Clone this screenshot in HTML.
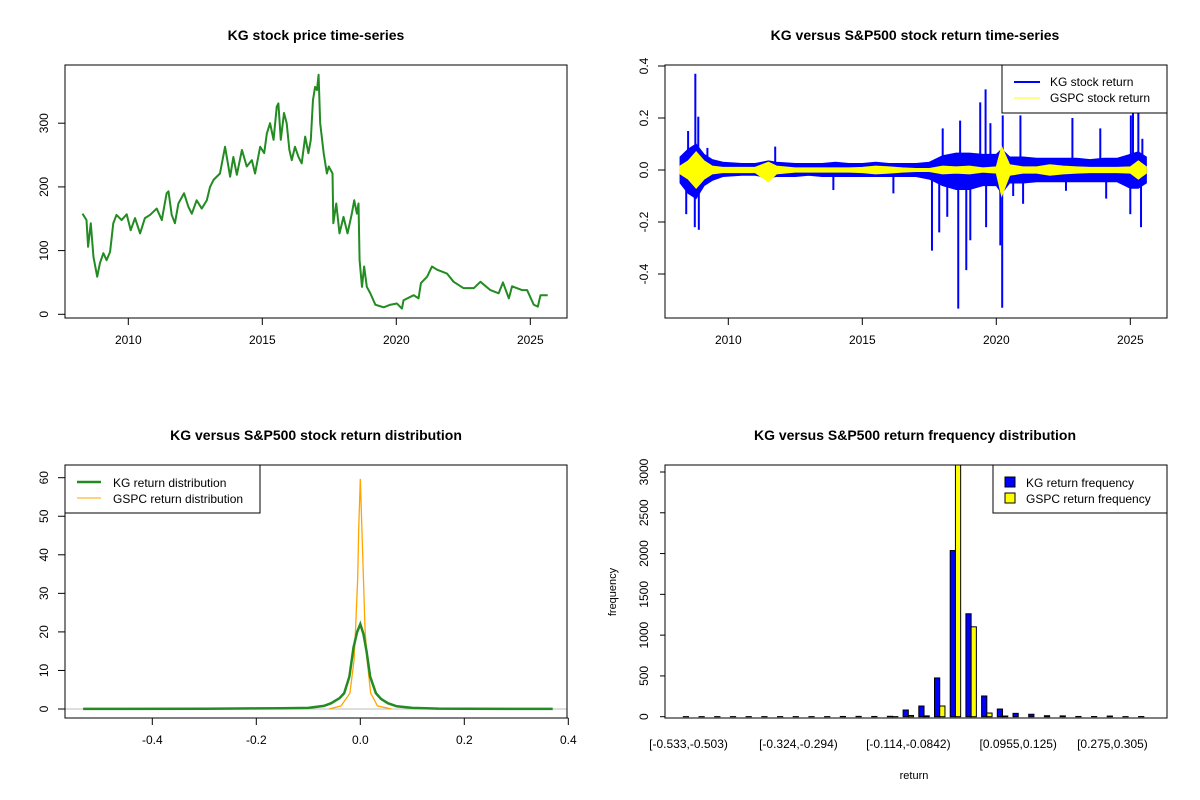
<!DOCTYPE html>
<html><head><meta charset="utf-8"><style>
html,body{margin:0;padding:0;background:#fff;}
svg{display:block;font-family:"Liberation Sans",Arial,sans-serif;}
</style></head><body>
<svg id="c" width="1200" height="800" viewBox="0 0 1200 800" xmlns="http://www.w3.org/2000/svg">
<defs><clipPath id="clipTR"><rect x="665" y="65" width="502" height="253"/></clipPath>
<clipPath id="clipBR"><rect x="665" y="465" width="502" height="253"/></clipPath>
<clipPath id="clipBL"><rect x="65" y="465" width="502" height="253"/></clipPath></defs>
<text x="316" y="40" text-anchor="middle" font-size="14" font-weight="bold">KG stock price time-series</text>
<text x="915" y="40" text-anchor="middle" font-size="14" font-weight="bold">KG versus S&amp;P500 stock return time-series</text>
<text x="316" y="440" text-anchor="middle" font-size="14" font-weight="bold">KG versus S&amp;P500 stock return distribution</text>
<text x="915" y="440" text-anchor="middle" font-size="14" font-weight="bold">KG versus S&amp;P500 return frequency distribution</text>
<g id="tl"></g>
<g id="tr"></g>
<g id="bl"></g>
<g id="br"></g>
</svg>
<script>
// ---- price chart data ----
const priceYears=[2008.29,2008.44,2008.5,2008.6,2008.7,2008.84,2008.94,2009.07,2009.19,2009.32,2009.44,2009.56,2009.75,2009.94,2010.09,2010.25,2010.44,2010.62,2010.81,2011.06,2011.25,2011.43,2011.5,2011.62,2011.74,2011.87,2012.08,2012.24,2012.37,2012.55,2012.74,2012.93,2013.05,2013.18,2013.42,2013.61,2013.8,2013.92,2014.05,2014.24,2014.42,2014.61,2014.73,2014.92,2015.07,2015.17,2015.29,2015.42,2015.54,2015.6,2015.69,2015.81,2015.91,2016.01,2016.1,2016.22,2016.35,2016.47,2016.6,2016.72,2016.81,2016.89,2016.97,2017.04,2017.1,2017.16,2017.29,2017.41,2017.48,2017.62,2017.65,2017.76,2017.88,2018.03,2018.18,2018.34,2018.43,2018.53,2018.59,2018.63,2018.72,2018.8,2018.9,2019.03,2019.22,2019.53,2019.78,2020.02,2020.21,2020.27,2020.65,2020.83,2020.92,2021.15,2021.33,2021.52,2021.89,2022.14,2022.51,2022.89,2023.14,2023.51,2023.82,2023.98,2024.2,2024.32,2024.69,2024.88,2025.13,2025.28,2025.38,2025.65];
const priceValues=[158,148,106,143,90,59,80,96,85,98,143,156,148,157,132,151,127,151,156,166,148,190,193,156,143,174,190,169,158,179,166,179,200,211,221,263,216,247,219,258,232,242,221,263,253,284,300,274,326,331,274,316,300,258,242,263,247,237,279,253,274,336,357,352,376,300,253,221,232,221,143,174,127,153,127,158,179,158,174,85,43,75,43,33,15,11,15,17,9,22,30,25,49,59,75,70,64,51,41,41,51,38,33,50,25,44,38,38,15,12,30,30];
const priceTicks=[0,100,200,300];
const yearTicks=[2010,2015,2020,2025];
// ---- return chart data ----
const bandYears=[2008.2,2008.5,2008.8,2009.1,2009.4,2009.8,2010.5,2011.0,2011.5,2011.8,2012.5,2013.0,2013.5,2014.0,2014.5,2015.0,2015.5,2016.0,2016.5,2017.0,2017.5,2018.0,2018.5,2019.0,2019.5,2020.0,2020.2,2020.5,2021.0,2021.5,2022.0,2022.5,2023.0,2023.5,2024.0,2024.5,2025.0,2025.3,2025.6];
const kgHigh=[0.05,0.08,0.1,0.06,0.04,0.03,0.025,0.025,0.035,0.03,0.025,0.025,0.025,0.03,0.025,0.025,0.03,0.025,0.025,0.025,0.03,0.055,0.065,0.065,0.06,0.06,0.08,0.05,0.05,0.045,0.045,0.045,0.045,0.04,0.045,0.045,0.06,0.07,0.05];
const kgLow=[-0.05,-0.09,-0.11,-0.06,-0.04,-0.025,-0.02,-0.02,-0.03,-0.025,-0.025,-0.02,-0.025,-0.025,-0.025,-0.025,-0.025,-0.025,-0.025,-0.025,-0.035,-0.06,-0.075,-0.075,-0.06,-0.06,-0.09,-0.05,-0.05,-0.045,-0.045,-0.045,-0.045,-0.045,-0.045,-0.045,-0.07,-0.07,-0.05];
const gspcHigh=[0.015,0.035,0.07,0.035,0.015,0.01,0.01,0.01,0.03,0.015,0.008,0.008,0.008,0.008,0.008,0.01,0.015,0.012,0.008,0.006,0.006,0.015,0.012,0.015,0.008,0.012,0.09,0.02,0.012,0.012,0.02,0.015,0.012,0.01,0.01,0.01,0.012,0.035,0.012];
const gspcLow=[-0.015,-0.035,-0.07,-0.035,-0.015,-0.01,-0.01,-0.01,-0.045,-0.015,-0.008,-0.008,-0.008,-0.008,-0.008,-0.01,-0.015,-0.012,-0.008,-0.006,-0.006,-0.015,-0.012,-0.015,-0.008,-0.012,-0.1,-0.02,-0.012,-0.012,-0.02,-0.015,-0.012,-0.01,-0.01,-0.01,-0.012,-0.035,-0.012];
const spikeYears=[2008.77,2008.88,2008.9,2008.75,2008.43,2008.5,2009.22,2011.75,2013.92,2016.16,2017.6,2017.87,2018.0,2018.17,2018.58,2018.65,2018.88,2019.03,2019.4,2019.6,2019.62,2019.78,2020.15,2020.22,2020.24,2020.63,2020.9,2021.0,2022.84,2022.6,2023.88,2024.1,2025.0,2025.02,2025.1,2025.4,2025.3,2025.45];
const spikeValues=[0.37,0.205,-0.23,-0.22,-0.17,0.15,0.085,0.09,-0.077,-0.09,-0.31,-0.24,0.16,-0.18,-0.533,0.19,-0.385,-0.27,0.26,0.31,-0.22,0.18,-0.29,-0.53,0.21,-0.10,0.21,-0.13,0.2,-0.08,0.16,-0.11,-0.17,0.21,0.3,-0.22,0.23,0.12];
const retTicks=[-0.4,-0.2,0,0.2,0.4];
const retTickLabels=["-0.4","-0.2","0.0","0.2","0.4"];
// ---- density data ----
const kgDensX=[-0.533,-0.3,-0.2,-0.15,-0.1,-0.07,-0.056,-0.04,-0.031,-0.021,-0.013,-0.006,0,0.006,0.012,0.019,0.03,0.04,0.053,0.07,0.1,0.15,0.2,0.37];
const kgDensY=[0.02,0.05,0.15,0.2,0.3,0.8,1.5,2.8,4.1,8.4,16,20,22,19.5,15,8.4,4.1,2.6,1.5,0.7,0.3,0.1,0.05,0.02];
const gsDensX=[-0.06,-0.037,-0.02,-0.012,-0.009,-0.005,-0.003,0,0.003,0.006,0.009,0.013,0.02,0.033,0.06];
const gsDensY=[0,0.8,4.1,12.7,21,34,47,59.7,47,34,21,12.7,4.1,0.8,0];
const densXTicks=[-0.4,-0.2,0,0.2,0.4];
const densXLabels=["-0.4","-0.2","0.0","0.2","0.4"];
const densYTicks=[0,10,20,30,40,50,60];
// ---- histogram data ----
const kgFreq=[1,1,1,1,1,1,1,1,1,1,3,4,3,5,82,131,475,2037,1262,254,94,41,30,12,10,3,2,8,1,2];
const gspcFreq=[0,0,0,0,0,0,0,0,0,0,0,0,0,1,15,10,131,3300,1102,45,8,0,0,0,0,0,0,0,0,0];
const binLabels=["[-0.533,-0.503)","[-0.324,-0.294)","[-0.114,-0.0842)","[0.0955,0.125)","[0.275,0.305)"];
const binLabelIdx=[0,7,14,21,27];
const freqTicks=[0,500,1000,1500,2000,2500,3000];

const NS="http://www.w3.org/2000/svg";
function mk(tag,attrs,parent){const e=document.createElementNS(NS,tag);for(const k in attrs)e.setAttribute(k,attrs[k]);parent.appendChild(e);return e;}
function txt(s,attrs,parent){const e=mk('text',attrs,parent);e.textContent=s;return e;}

const xYear=y=>128.3+(y-2010)*26.8;
const yPrice=p=>314.3-p*0.637;
const xYear2=y=>728.3+(y-2010)*26.8;
const yRet=r=>170-r*260;
const xD=r=>360.3+r*520;
const yD=d=>709-d*3.855;
const yF=v=>716.7-v*0.08157;
const barX=i=>683.3+i*15.7;
const BW=5.23;

function box(g,x,y,w,h,name){const b=mk('rect',{x:x,y:y,width:w,height:h,fill:'none',stroke:'#000','stroke-width':1},g);

}
function xAxis(g,vals,labels,sx,yb,name){
  const l=mk('line',{x1:sx(vals[0]),x2:sx(vals[vals.length-1]),y1:yb,y2:yb,stroke:'#000'},g);
  
  
  vals.forEach((v,i)=>{const t=mk('line',{x1:sx(v),x2:sx(v),y1:yb,y2:yb+7,stroke:'#000'},g);
    
    
    const s=txt(labels[i],{x:sx(v),y:yb+26,'text-anchor':'middle','font-size':12},g);
    
    });
}
function yAxis(g,vals,labels,sy,xb,name,tl){
  const L=tl||7;
  const l=mk('line',{x1:xb,x2:xb,y1:sy(vals[0]),y2:sy(vals[vals.length-1]),stroke:'#000'},g);
  
  
  vals.forEach((v,i)=>{const t=mk('line',{x1:xb-L,x2:xb,y1:sy(v),y2:sy(v),stroke:'#000'},g);
    
    
    const X=xb-17,Y=sy(v);
    const s=txt(labels[i],{x:X,y:Y,'text-anchor':'middle','font-size':12,transform:`rotate(-90 ${X} ${Y})`},g);
    
    });
}

// ---------- top-left ----------
const tl=document.getElementById('tl');
box(tl,65,65,502,253,'price-plot-frame');
xAxis(tl,yearTicks,yearTicks.map(String),xYear,318,'price-x-axis');
yAxis(tl,priceTicks,priceTicks.map(String),yPrice,65,'price-y-axis');
const pl=mk('polyline',{points:priceYears.map((y,i)=>xYear(y)+','+yPrice(priceValues[i])).join(' '),fill:'none',stroke:'#228B22','stroke-width':2,'stroke-linejoin':'round'},tl);



// ---------- top-right ----------
const tr=document.getElementById('tr');
const trc=mk('g',{'clip-path':'url(#clipTR)'},tr);


function band(g,hi,lo,col,name){
  const pts=bandYears.map((y,i)=>xYear2(y)+','+yRet(hi[i])).concat(bandYears.map((y,i)=>xYear2(y)+','+yRet(lo[i])).reverse());
  const p=mk('polygon',{points:pts.join(' '),fill:col,stroke:col,'stroke-width':1},g);
  
  
}
band(trc,kgHigh,kgLow,'#0000FF','kg-return-band');
spikeYears.forEach((y,i)=>{const s=mk('line',{x1:xYear2(y),x2:xYear2(y),y1:yRet(0),y2:yRet(spikeValues[i]),stroke:'#0000FF','stroke-width':2},trc);
  
  });
band(trc,gspcHigh,gspcLow,'#FFFF00','gspc-return-band');
box(tr,665,65,502,253,'return-plot-frame');
xAxis(tr,yearTicks,yearTicks.map(String),xYear2,318,'return-x-axis');
yAxis(tr,retTicks,retTickLabels,yRet,665,'return-y-axis');
const lg1=mk('g',{},tr);


mk('rect',{x:1002,y:65,width:165,height:48,fill:'#fff',stroke:'#000'},lg1);
let e;
e=mk('line',{x1:1014,x2:1040,y1:82,y2:82,stroke:'#0000FF','stroke-width':2},lg1);

e=txt('KG stock return',{x:1050,y:86,'font-size':12},lg1);

e=mk('line',{x1:1014,x2:1040,y1:98,y2:98,stroke:'#FFFF00','stroke-width':1},lg1);

e=txt('GSPC stock return',{x:1050,y:102,'font-size':12},lg1);


// ---------- bottom-left ----------
const bl=document.getElementById('bl');
const blc=mk('g',{'clip-path':'url(#clipBL)'},bl);


e=mk('line',{x1:65,x2:567,y1:yD(0),y2:yD(0),stroke:'#BEBEBE'},blc);


e=mk('polyline',{points:gsDensX.map((x,i)=>xD(x)+','+yD(gsDensY[i])).join(' '),fill:'none',stroke:'#FFA500','stroke-width':1.3},blc);


e=mk('polyline',{points:kgDensX.map((x,i)=>xD(x)+','+yD(kgDensY[i])).join(' '),fill:'none',stroke:'#228B22','stroke-width':2.5},blc);


box(bl,65,465,502,253,'density-plot-frame');
xAxis(bl,densXTicks,densXLabels,xD,718,'density-x-axis');
yAxis(bl,densYTicks,densYTicks.map(String),yD,65,'density-y-axis');
const lg2=mk('g',{},bl);


mk('rect',{x:65,y:465,width:195,height:48,fill:'#fff',stroke:'#000'},lg2);
e=mk('line',{x1:77,x2:101,y1:482,y2:482,stroke:'#228B22','stroke-width':2.5},lg2);

e=txt('KG return distribution',{x:113,y:487,'font-size':12},lg2);

e=mk('line',{x1:77,x2:101,y1:498,y2:498,stroke:'#FFA500','stroke-width':1},lg2);

e=txt('GSPC return distribution',{x:113,y:503,'font-size':12},lg2);


// ---------- bottom-right ----------
const br=document.getElementById('br');
const brc=mk('g',{'clip-path':'url(#clipBR)'},br);


kgFreq.forEach((v,i)=>{
  const b=mk('rect',{x:barX(i),y:yF(v),width:BW,height:yF(0)-yF(v),fill:'#0000FF',stroke:'#000','stroke-width':1},brc);
  
  
  const w=gspcFreq[i];
  const c=mk('rect',{x:barX(i)+BW,y:yF(w),width:BW,height:yF(0)-yF(w),fill:'#FFFF00',stroke:'#000','stroke-width':1},brc);
  
  
});
box(br,665,465,502,253,'histogram-plot-frame');
yAxis(br,freqTicks,freqTicks.map(String),yF,665,'frequency-y-axis',5);
binLabelIdx.forEach((k,j)=>{const s=txt(binLabels[j],{x:barX(k)+BW,y:748,'text-anchor':'middle','font-size':12},br);
  
  });
e=txt('return',{x:914,y:779,'text-anchor':'middle','font-size':11},br);


e=txt('frequency',{x:616,y:592,'text-anchor':'middle','font-size':11,transform:'rotate(-90 616 592)'},br);


const lg3=mk('g',{},br);


mk('rect',{x:993,y:465,width:174,height:48,fill:'#fff',stroke:'#000'},lg3);
e=mk('rect',{x:1005,y:477,width:10,height:10,fill:'#0000FF',stroke:'#000'},lg3);

e=txt('KG return frequency',{x:1026,y:487,'font-size':12},lg3);

e=mk('rect',{x:1005,y:493,width:10,height:10,fill:'#FFFF00',stroke:'#000'},lg3);

e=txt('GSPC return frequency',{x:1026,y:503,'font-size':12},lg3);

</script>
</body></html>
